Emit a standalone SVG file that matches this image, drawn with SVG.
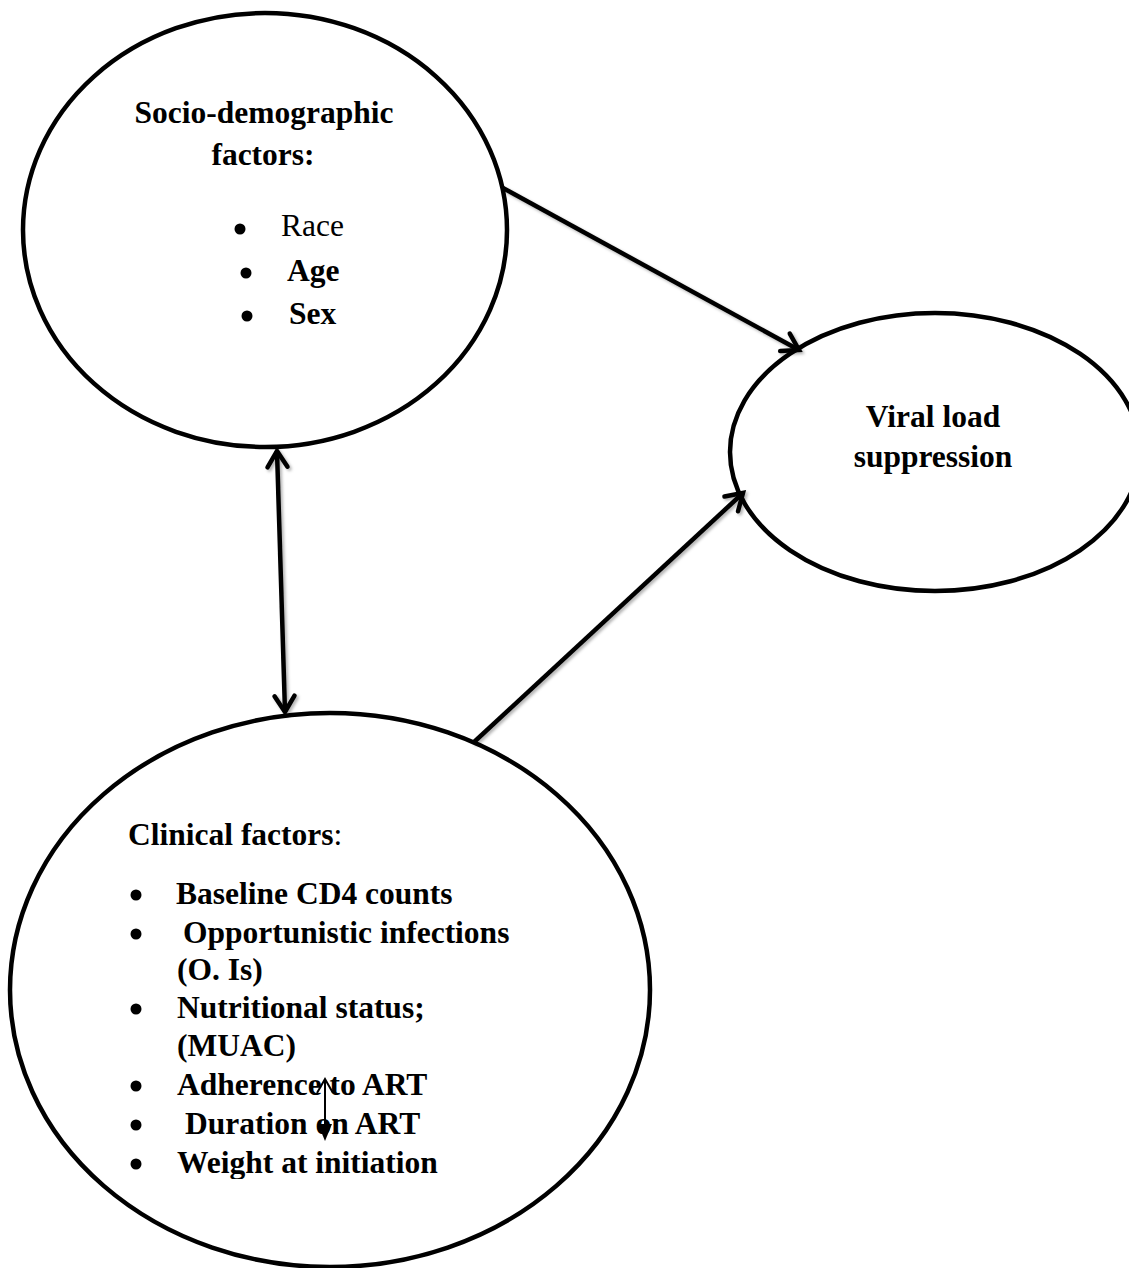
<svg xmlns="http://www.w3.org/2000/svg" width="1129" height="1268" viewBox="0 0 1129 1268">
  <style>
    .node { fill: #ffffff; stroke: #000000; stroke-width: 4.5; }
    .t { font-family: "Liberation Serif", "Times New Roman", serif; font-size: 31.5px; fill: #000000; }
    .b { font-weight: bold; }
    .conn { fill: none; stroke: #000000; stroke-width: 4.5; stroke-linecap: butt; }
    .bullet { fill: #000000; }
  </style>
  <defs>
    <filter id="shadow" filterUnits="userSpaceOnUse" x="0" y="0" width="1129" height="1268">
      <feDropShadow dx="2" dy="2" stdDeviation="1.5" flood-color="#000000" flood-opacity="0.3"/>
    </filter>
    <marker id="openArrow" viewBox="-24 -16 30 32" refX="0" refY="0" markerWidth="30" markerHeight="32" markerUnits="userSpaceOnUse" orient="auto-start-reverse">
      <path d="M-16,-10 L0,0 L-16,10" fill="none" stroke="#000000" stroke-width="4.5" stroke-linecap="round" stroke-linejoin="miter"/>
    </marker>
    <clipPath id="clipWeight">
      <rect x="0" y="1000" width="1129" height="179"/>
    </clipPath>
  </defs>

  <rect x="0" y="0" width="1129" height="1268" fill="#ffffff"/>

  <g id="node-socio">
    <ellipse class="node" cx="265" cy="230" rx="242" ry="217"/>
    <text class="t b" x="264" y="123" text-anchor="middle">Socio-demographic</text>
    <text class="t b" x="263" y="165" text-anchor="middle">factors:</text>
    <circle class="bullet" cx="240" cy="229" r="5.5"/>
    <text class="t" x="281" y="236">Race</text>
    <circle class="bullet" cx="246" cy="273" r="5.5"/>
    <text class="t b" x="287" y="281">Age</text>
    <circle class="bullet" cx="247" cy="316" r="5.5"/>
    <text class="t b" x="289" y="324">Sex</text>
  </g>

  <g id="node-viral">
    <ellipse class="node" cx="935" cy="452" rx="205" ry="139"/>
    <text class="t b" x="933" y="427" text-anchor="middle">Viral load</text>
    <text class="t b" x="933" y="467" text-anchor="middle">suppression</text>
  </g>

  <g id="node-clinical">
    <ellipse class="node" cx="330" cy="990" rx="320" ry="277"/>
    <text class="t" x="128" y="845"><tspan class="b">Clinical factors</tspan>:</text>
    <circle class="bullet" cx="136" cy="895" r="5.5"/>
    <text class="t b" x="176" y="904">Baseline CD4 counts</text>
    <circle class="bullet" cx="136" cy="934" r="5.5"/>
    <text class="t b" x="183" y="943">Opportunistic infections</text>
    <text class="t b" x="177" y="980">(O. Is)</text>
    <circle class="bullet" cx="136" cy="1009" r="5.5"/>
    <text class="t b" x="177" y="1018">Nutritional status;</text>
    <text class="t b" x="177" y="1056">(MUAC)</text>
    <circle class="bullet" cx="136" cy="1086" r="5.5"/>
    <text class="t b" x="177" y="1095">Adherence to ART</text>
    <circle class="bullet" cx="136" cy="1125" r="5.5"/>
    <text class="t b" x="185" y="1134">Duration on ART</text>
    <circle class="bullet" cx="136" cy="1164" r="5.5"/>
    <text class="t b" x="177" y="1173" clip-path="url(#clipWeight)">Weight at initiation</text>
  </g>

  <g id="connectors">
    <line class="conn" filter="url(#shadow)" x1="503" y1="188" x2="799" y2="350" marker-end="url(#openArrow)"/>
    <line class="conn" filter="url(#shadow)" x1="473" y1="743" x2="743" y2="493" marker-end="url(#openArrow)"/>
    <line class="conn" filter="url(#shadow)" x1="277" y1="451" x2="285" y2="712" stroke-width="5" marker-start="url(#openArrow)" marker-end="url(#openArrow)"/>
    <g id="small-arrow">
      <line x1="325" y1="1079" x2="325" y2="1126" stroke="#000000" stroke-width="2"/>
      <path d="M317,1093 L325,1079 L333,1093" fill="none" stroke="#000000" stroke-width="2"/>
      <path d="M318,1124 L332,1124 L325,1141 Z" fill="#000000"/>
    </g>
  </g>
</svg>
